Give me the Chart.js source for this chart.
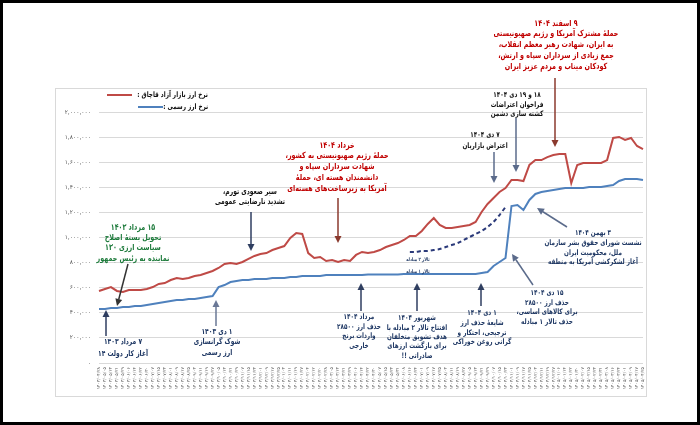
<!DOCTYPE html>
<html lang="fa">
<head>
<meta charset="utf-8">
<title>نرخ ارز بازار آزاد و رسمی</title>
<script src="https://cdn.jsdelivr.net/npm/chart.js@4.4.1/dist/chart.umd.min.js"></script>
<style>
  html, body { margin: 0; padding: 0; background: #fff; }
  #wrap { position: relative; width: 700px; height: 425px; overflow: hidden; font-family: "DejaVu Sans", sans-serif; }
  #frame { position: absolute; left: 0; top: 0; width: 700px; height: 425px; box-sizing: border-box; border: 3px solid #000; z-index: 9; pointer-events: none; }
  #panel { position: absolute; left: 55px; top: 88px; width: 592px; height: 309px; box-sizing: border-box; border: 1px solid #d9d9d9; }
  #chart { position: absolute; left: 0; top: 0; z-index: 1; }
  .note { position: absolute; white-space: nowrap; text-align: center; direction: rtl; font-weight: bold; z-index: 3; }
  .legend-text { position: absolute; right: 492px; direction: rtl; white-space: nowrap; font: bold 7.5px "DejaVu Sans", sans-serif; color: #111; z-index: 3; transform: scaleX(0.76); transform-origin: right center; }
  .legend-line { position: absolute; height: 2px; z-index: 3; }
</style>
</head>
<body>
<div id="wrap">
  <div id="panel"></div>
  <canvas id="chart" width="700" height="425"></canvas>
  <div id="notes"></div>
  <div class="legend-line" style="left:107px; top:94px; width:25px; background:#bf4a46;"></div>
  <div class="legend-text" style="top:90px;">نرخ ارز بازار آزاد قاچاق :</div>
  <div class="legend-line" style="left:138px; top:106px; width:25px; background:#4f81bd;"></div>
  <div class="legend-text" style="top:102px;">نرخ ارز رسمی :</div>
  <div id="frame"></div>
</div>
<script>
// x axis dates (roughly every 8 days)
const dateLabels = [
  '1403/04/28','1403/05/05','1403/05/13','1403/05/21','1403/05/29','1403/06/06','1403/06/14','1403/06/22','1403/06/30','1403/07/07',
  '1403/07/15','1403/07/23','1403/08/01','1403/08/09','1403/08/17','1403/08/25','1403/09/03','1403/09/11','1403/09/19','1403/09/27',
  '1403/10/05','1403/10/13','1403/10/21','1403/10/29','1403/11/07','1403/11/15','1403/11/23','1403/12/01','1403/12/09','1403/12/17',
  '1403/12/25','1404/01/03','1404/01/11','1404/01/19','1404/01/27','1404/02/04','1404/02/12','1404/02/20','1404/02/28','1404/03/05',
  '1404/03/13','1404/03/21','1404/03/29','1404/04/06','1404/04/14','1404/04/22','1404/04/30','1404/05/07','1404/05/15','1404/05/23',
  '1404/05/31','1404/06/08','1404/06/16','1404/06/24','1404/07/01','1404/07/09','1404/07/17','1404/07/25','1404/08/03','1404/08/11',
  '1404/08/19','1404/08/27','1404/09/05','1404/09/13','1404/09/21','1404/09/29','1404/10/07','1404/10/15','1404/10/23','1404/11/01',
  '1404/11/09','1404/11/17','1404/11/25','1404/12/03','1404/12/11','1404/12/19','1404/12/27','1405/01/06','1405/01/14','1405/01/22',
  '1405/01/30','1405/02/07','1405/02/15','1405/02/23','1405/02/31','1405/03/08','1405/03/16','1405/03/24','1405/04/01','1405/04/09',
  '1405/04/17','1405/04/25'
];

// free market rate (red)
const marketRate = [
  574000, 590000, 605000, 574000, 566000, 582000, 582000, 582000, 590000, 605000,
  630000, 637000, 661000, 677000, 670000, 677000, 693000, 701000, 717000, 733000,
  757000, 789000, 797000, 789000, 805000, 829000, 853000, 869000, 876000, 900000,
  916000, 932000, 996000, 1036000, 1028000, 876000, 837000, 845000, 813000, 821000,
  805000, 821000, 813000, 861000, 885000, 876000, 885000, 900000, 924000, 940000,
  956000, 980000, 1012000, 1012000, 1052000, 1108000, 1155000, 1100000, 1076000, 1076000,
  1084000, 1092000, 1100000, 1124000, 1203000, 1267000, 1315000, 1363000, 1394000, 1458000,
  1458000, 1450000, 1578000, 1617000, 1617000, 1641000, 1657000, 1665000, 1665000, 1434000,
  1578000, 1594000, 1594000, 1594000, 1594000, 1617000, 1793000, 1801000, 1777000, 1793000,
  1729000, 1705000
];

// official rate (blue)
const officialRate = [
  430000, 430000, 438000, 438000, 446000, 446000, 454000, 454000, 462000, 470000,
  478000, 486000, 494000, 502000, 502000, 510000, 510000, 518000, 526000, 534000,
  605000, 621000, 645000, 653000, 661000, 661000, 669000, 669000, 669000, 677000,
  677000, 677000, 685000, 685000, 693000, 693000, 693000, 693000, 701000, 701000,
  701000, 701000, 701000, 701000, 701000, 705000, 705000, 705000, 705000, 705000,
  705000, 709000, 709000, 709000, 709000, 709000, 709000, 709000, 709000, 709000,
  709000, 709000, 709000, 709000, 717000, 725000, 773000, 805000, 837000, 1251000,
  1259000, 1219000, 1299000, 1347000, 1363000, 1371000, 1378000, 1386000, 1394000, 1394000,
  1394000, 1394000, 1402000, 1402000, 1402000, 1410000, 1418000, 1450000, 1466000, 1466000,
  1466000, 1458000
];

// exchange hall 2 (dashed), starts at index dashStart
const dashStart = 52;
const hall2Rate = [
  885000, 885000, 893000, 893000, 900000, 908000, 924000, 940000, 956000,
  980000, 1004000, 1028000, 1052000, 1084000, 1124000, 1179000, 1243000
];

const RED = '#bf4a46';
const BLUE = '#4f81bd';
const NAVY = '#1f3864';
const FONT = '"DejaVu Sans", sans-serif';

function toFa(s) {
  return String(s).replace(/[0-9]/g, d => '۰۱۲۳۴۵۶۷۸۹'[d]);
}

const hall2Series = dateLabels.map((_, i) => {
  const k = i - dashStart;
  return (k >= 0 && k < hall2Rate.length) ? hall2Rate[k] : null;
});

// text callouts: center x, first line center y, line height
const notes = [
  { x: 556, y: 23, lh: 10.8, color: '#c00000', size: 8.5, lines: ['۹ اسفند ۱۴۰۴', 'حملۀ مشترک آمریکا و رژیم صهیونیستی', 'به ایران، شهادت رهبر معظم انقلاب،', 'جمع زیادی از سرداران سپاه و ارتش،', 'کودکان میناب و مردم عزیز ایران'] },
  { x: 337, y: 145, lh: 10.8, color: '#c00000', size: 8.5, lines: ['خرداد ۱۴۰۴', 'حملۀ رژیم صهیونیستی به کشور،', 'شهادت سرداران سپاه و', 'دانشمندان هسته ای، حملۀ', 'آمریکا به زیرساخت‌های هسته‌ای'] },
  { x: 250, y: 192, lh: 10, color: '#111', size: 8, lines: ['سیر صعودی تورم،', 'تشدید نارضایتی عمومی'] },
  { x: 133, y: 227, lh: 10.3, color: '#1e7b3c', size: 8.5, lines: ['۱۵ مرداد ۱۴۰۳', 'تحویل بستۀ اصلاح', 'سیاست ارزی ۱۳۰', 'نماینده به رئیس جمهور'] },
  { x: 123, y: 342, lh: 12, color: NAVY, size: 8, lines: ['۷ مرداد ۱۴۰۳', 'آغاز کار دولت ۱۴'] },
  { x: 217, y: 332, lh: 10.5, color: NAVY, size: 8, lines: ['۱ دی ۱۴۰۳', 'شوک گرانسازی', 'ارز رسمی'] },
  { x: 359, y: 317, lh: 9.5, color: NAVY, size: 7.6, lines: ['مرداد ۱۴۰۴', 'حذف ارز ۲۸۵۰۰', 'واردات برنج', 'خارجی'] },
  { x: 417, y: 318, lh: 9.3, color: NAVY, size: 7.6, lines: ['شهریور ۱۴۰۴', 'افتتاح تالار ۲ مبادله  با', 'هدف تشویق متخلفان', 'برای بازگشت ارزهای', 'صادراتی !!'] },
  { x: 482, y: 313, lh: 9.7, color: NAVY, size: 7.6, lines: ['۱ دی ۱۴۰۴', 'شایعۀ حذف ارز', 'ترجیحی، احتکار و', 'گرانی روغن خوراکی'] },
  { x: 547, y: 293, lh: 9.5, color: NAVY, size: 7.6, lines: ['۱۵ دی ۱۴۰۴', 'حذف ارز ۲۸۵۰۰', 'برای کالاهای اساسی،', 'حذف تالار ۱ مبادله'] },
  { x: 593, y: 233, lh: 9.8, color: NAVY, size: 7.6, lines: ['۳ بهمن ۱۴۰۴', 'نشست شورای حقوق بشر سازمان', 'ملل، محکومیت ایران', 'آغاز لشکرکشی آمریکا به منطقه'] },
  { x: 485, y: 134, lh: 11, color: '#111', size: 7.6, lines: ['۷ دی ۱۴۰۴', 'اعتراض بازاریان'] },
  { x: 517, y: 95, lh: 9.5, color: '#111', size: 7.6, lines: ['۱۸ و ۱۹ دی ۱۴۰۴', 'فراخوان اعتراضات', 'کشته سازی دشمن'] },
  { x: 418, y: 259, lh: 6, color: NAVY, size: 5, lines: ['تالار ۲ مبادله'] },
  { x: 418, y: 271, lh: 6, color: NAVY, size: 5, lines: ['تالار ۱ مبادله'] }
];

// arrows: from -> tip
const arrows = [
  { from: [555, 78], to: [555, 147], color: '#8b3a2e' },
  { from: [338, 198], to: [338, 243], color: '#8b3a2e' },
  { from: [251, 212], to: [251, 251], color: '#2f3e60' },
  { from: [128, 264], to: [117, 306], color: '#333333' },
  { from: [106, 336], to: [106, 310], color: '#2f3e60' },
  { from: [216, 326], to: [216, 300], color: '#6a7896' },
  { from: [361, 311], to: [361, 283], color: '#2f3e60' },
  { from: [417, 311], to: [417, 283], color: '#2f3e60' },
  { from: [481, 306], to: [481, 283], color: '#2f3e60' },
  { from: [494, 152], to: [494, 183], color: '#5b6b8b' },
  { from: [516, 118], to: [516, 172], color: '#5b6b8b' },
  { from: [567, 227], to: [537, 208], color: '#5b6b8b' },
  { from: [533, 285], to: [512, 254], color: '#5b6b8b' }
];

// render callouts
const notesEl = document.getElementById('notes');
notes.forEach(n => {
  const div = document.createElement('div');
  div.className = 'note';
  div.style.left = n.x + 'px';
  div.style.top = (n.y - n.lh / 2) + 'px';
  div.style.color = n.color;
  div.style.font = `bold ${n.size}px/${n.lh}px ${FONT}`;
  div.style.transform = 'translateX(-50%) scaleX(0.75)';
  div.innerHTML = n.lines.map(l => `<div>${l}</div>`).join('');
  notesEl.appendChild(div);
});

function drawArrow(ctx, a) {
  const [x1, y1] = a.from;
  const [x2, y2] = a.to;
  const ang = Math.atan2(y2 - y1, x2 - x1);
  const head = 7, half = 3.5;
  const bx = x2 - head * Math.cos(ang), by = y2 - head * Math.sin(ang);
  ctx.strokeStyle = a.color;
  ctx.fillStyle = a.color;
  ctx.lineWidth = 1.5;
  ctx.beginPath();
  ctx.moveTo(x1, y1);
  ctx.lineTo(bx, by);
  ctx.stroke();
  ctx.beginPath();
  ctx.moveTo(x2, y2);
  ctx.lineTo(bx + half * Math.sin(ang), by - half * Math.cos(ang));
  ctx.lineTo(bx - half * Math.sin(ang), by + half * Math.cos(ang));
  ctx.closePath();
  ctx.fill();
}

const arrowPlugin = {
  id: 'arrows',
  afterDatasetsDraw(chart) {
    const ctx = chart.ctx;
    ctx.save();
    arrows.forEach(a => drawArrow(ctx, a));
    ctx.restore();
  }
};

new Chart(document.getElementById('chart'), {
  type: 'line',
  data: {
    labels: dateLabels,
    datasets: [
      {
        label: 'نرخ ارز بازار آزاد قاچاق',
        data: marketRate,
        borderColor: RED,
        borderWidth: 2,
        pointRadius: 0,
        tension: 0
      },
      {
        label: 'نرخ ارز رسمی',
        data: officialRate,
        borderColor: BLUE,
        borderWidth: 2,
        pointRadius: 0,
        tension: 0
      },
      {
        label: 'تالار ۲ مبادله',
        data: hall2Series,
        borderColor: '#2b3a7a',
        borderWidth: 2,
        borderDash: [4, 3],
        pointRadius: 0,
        tension: 0.3,
        spanGaps: false
      }
    ]
  },
  options: {
    responsive: false,
    animation: false,
    layout: { padding: { top: 112, right: 57, bottom: 0, left: 0 } },
    plugins: {
      legend: { display: false },
      tooltip: { enabled: false }
    },
    scales: {
      x: {
        grid: { display: false, drawTicks: false },
        border: { display: false },
        ticks: {
          autoSkip: false,
          minRotation: 90,
          maxRotation: 90,
          padding: 4,
          color: '#595959',
          font: { size: 4.5, family: FONT },
          callback: (v, i) => toFa(dateLabels[i])
        },
        afterFit: s => { s.height = 62; }
      },
      y: {
        min: 0,
        max: 2000000,
        grid: { color: '#d9d9d9', drawTicks: false },
        border: { display: false },
        ticks: {
          stepSize: 200000,
          padding: 8,
          color: '#595959',
          font: { size: 6, family: FONT },
          callback: v => toFa(v.toLocaleString('en-US'))
        },
        afterFit: s => { s.width = 99; }
      }
    }
  },
  plugins: [arrowPlugin]
});
</script>
</body>
</html>
